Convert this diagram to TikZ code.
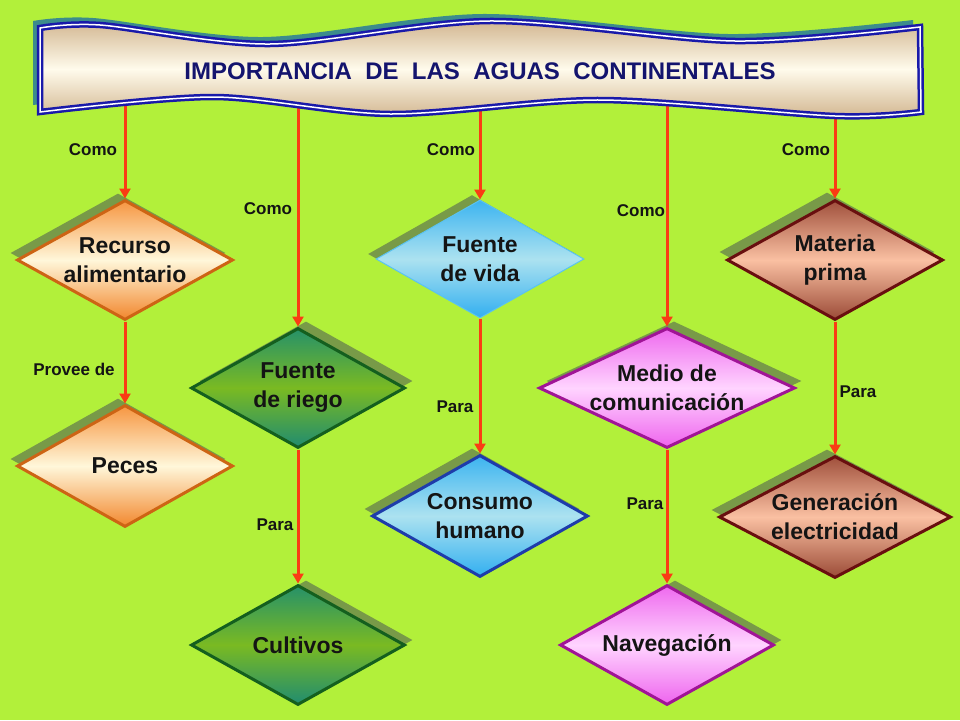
\documentclass[tikz,border=0pt]{standalone}
\usepackage{fontspec}
\setmainfont{Liberation Sans}
\usetikzlibrary{shapes.geometric,shadows,arrows.meta}
\definecolor{bg}{RGB}{178,240,58}
\definecolor{shc}{RGB}{120,154,72}
\definecolor{arrc}{RGB}{250,60,20}
\definecolor{bnavy}{RGB}{20,20,110}
\definecolor{bblue}{RGB}{25,25,170}
\definecolor{bteal}{RGB}{60,140,140}
\definecolor{btan}{RGB}{210,182,144}
\definecolor{bcream}{RGB}{255,251,236}
% orange
\definecolor{orD}{RGB}{205,100,20}
\definecolor{orT}{RGB}{246,150,65}
\definecolor{orM}{RGB}{255,247,218}
\definecolor{orB}{RGB}{242,135,45}
% green
\definecolor{grD}{RGB}{20,95,30}
\definecolor{grT}{RGB}{38,145,105}
\definecolor{grM}{RGB}{122,186,34}
\definecolor{grB}{RGB}{32,140,112}
% blue
\definecolor{blD}{RGB}{30,60,170}
\definecolor{blL}{RGB}{90,195,240}
\definecolor{blT}{RGB}{60,180,240}
\definecolor{blM}{RGB}{172,226,240}
\definecolor{blB}{RGB}{50,175,240}
% magenta
\definecolor{mgD}{RGB}{160,20,150}
\definecolor{mgT}{RGB}{238,105,238}
\definecolor{mgM}{RGB}{255,212,255}
\definecolor{mgB}{RGB}{238,100,238}
% brown
\definecolor{brD}{RGB}{105,15,15}
\definecolor{brT}{RGB}{160,80,60}
\definecolor{brM}{RGB}{250,192,162}
\definecolor{brB}{RGB}{155,75,55}
\begin{document}
\begin{tikzpicture}[x=1pt,y=-1pt,
  dia/.style={shape=diamond, inner sep=0pt, line width=3pt},
  dtext/.style={align=center, inner sep=0pt, text=black!92, font=\fontsize{23}{29}\selectfont\bfseries},
  sh/.style 2 args={general shadow={fill=shc, shadow xshift=#1, shadow yshift=#2}},
  orangedia/.style={dia, draw=orD, top color=orT, bottom color=orB, middle color=orM},
  greendia/.style={dia, draw=grD, top color=grT, bottom color=grB, middle color=grM},
  bluedia/.style={dia, draw=blD, top color=blT, bottom color=blB, middle color=blM},
  lightbluedia/.style={dia, draw=blL, line width=1pt, top color=blT, bottom color=blB, middle color=blM},
  magdia/.style={dia, draw=mgD, top color=mgT, bottom color=mgB, middle color=mgM},
  browndia/.style={dia, draw=brD, top color=brT, bottom color=brB, middle color=brM},
  lbl/.style={font=\fontsize{17}{20}\selectfont\bfseries, text=black!92, inner sep=0pt},
  arr/.style={draw=arrc, line width=3pt, -{Triangle[width=11pt,length=10pt]}},
  bannerpath/.style={insert path={plot[smooth] coordinates {(40,28) (100,25) (270,44) (490,21) (735,41) (920,27)}
     -- plot[smooth] coordinates {(921,112) (835,116) (600,100) (390,114) (214,97) (40,112)} -- cycle}},
  titlestyle/.style={font=\fontsize{24}{28}\selectfont\bfseries, text=bnavy, inner sep=0pt}
]
\useasboundingbox (0,0) rectangle (960,720);
\fill[bg] (0,0) rectangle (960,720);

% diamonds
\node[orangedia, sh={-7pt}{7pt}, minimum width=216pt, minimum height=120pt] (rec) at (125,260) {};
\node[greendia, sh={8pt}{7pt}, minimum width=214pt, minimum height=120pt] (rie) at (298,388) {};
\node[lightbluedia, sh={-8pt}{5pt}, minimum width=208pt, minimum height=118pt] (vid) at (480,259) {};
\node[magdia, sh={7pt}{7pt}, minimum width=256pt, minimum height=120pt] (med) at (667,388) {};
\node[browndia, sh={-8pt}{8pt}, minimum width=216pt, minimum height=120pt] (mat) at (835,260) {};
\node[orangedia, sh={-7pt}{7pt}, minimum width=216pt, minimum height=122pt] (pec) at (125,466) {};
\node[bluedia, sh={-8pt}{7pt}, minimum width=216pt, minimum height=122pt] (con) at (480,516) {};
\node[browndia, sh={-8pt}{7pt}, minimum width=232pt, minimum height=122pt] (gen) at (835,517) {};
\node[greendia, sh={8pt}{5pt}, minimum width=214pt, minimum height=120pt] (cul) at (298,645) {};
\node[magdia, sh={8pt}{5pt}, minimum width=214pt, minimum height=120pt] (nav) at (667,645) {};

% diamond texts
\node[dtext] (rect) at (rec) {Recurso\\alimentario};
\node[dtext] (riet) at (rie) {Fuente\\de riego};
\node[dtext] (vidt) at (vid) {Fuente\\de vida};
\node[dtext] (medt) at (med) {Medio de\\comunicación};
\node[dtext] (matt) at (mat) {Materia\\prima};
\node[dtext] (pect) at (pec) {Peces};
\node[dtext] (cont) at (con) {Consumo\\humano};
\node[dtext] (gent) at (gen) {Generación\\electricidad};
\node[dtext] (cult) at (cul) {Cultivos};
\node[dtext] (navt) at (nav) {Navegación};

% connector start points (hidden under the banner)
\coordinate (b1) at (125,92);
\coordinate (b2) at (298,96);
\coordinate (b3) at (480,92);
\coordinate (b4) at (667,92);
\coordinate (b5) at (835,96);

\draw[arr] (b1) -- (rec.north);
\draw[arr] (b2) -- (rie.north);
\draw[arr] (b3) -- (vid.north);
\draw[arr] (b4) -- (med.north);
\draw[arr] (b5) -- (mat.north);
\draw[arr] (rec.south) -- (pec.north);
\draw[arr] (rie.south) -- (cul.north);
\draw[arr] (vid.south) -- (con.north);
\draw[arr] (med.south) -- (nav.north);
\draw[arr] (mat.south) -- (gen.north);

% banner
\begin{scope}[shift={(-7,-7)}]
\fill[bteal][bannerpath];
\end{scope}
\path[top color=btan, bottom color=btan, middle color=bcream][bannerpath];
\draw[bblue, line width=2.5pt, double=white, double distance=1.5pt][bannerpath];
\node[titlestyle] (title) at (480,71) {IMPORTANCIA\ \ DE\ \ LAS\ \ AGUAS\ \ CONTINENTALES};

% labels
\node[lbl] (l1) at (93,150) {Como};
\node[lbl] (l2) at (268,209) {Como};
\node[lbl] (l3) at (451,150) {Como};
\node[lbl] (l4) at (641,211) {Como};
\node[lbl] (l5) at (806,150) {Como};
\node[lbl] (l6) at (74,369) {Provee de};
\node[lbl] (l7) at (275,525) {Para};
\node[lbl] (l8) at (455,407) {Para};
\node[lbl] (l9) at (645,504) {Para};
\node[lbl] (l10) at (858,392) {Para};
\end{tikzpicture}
\end{document}
